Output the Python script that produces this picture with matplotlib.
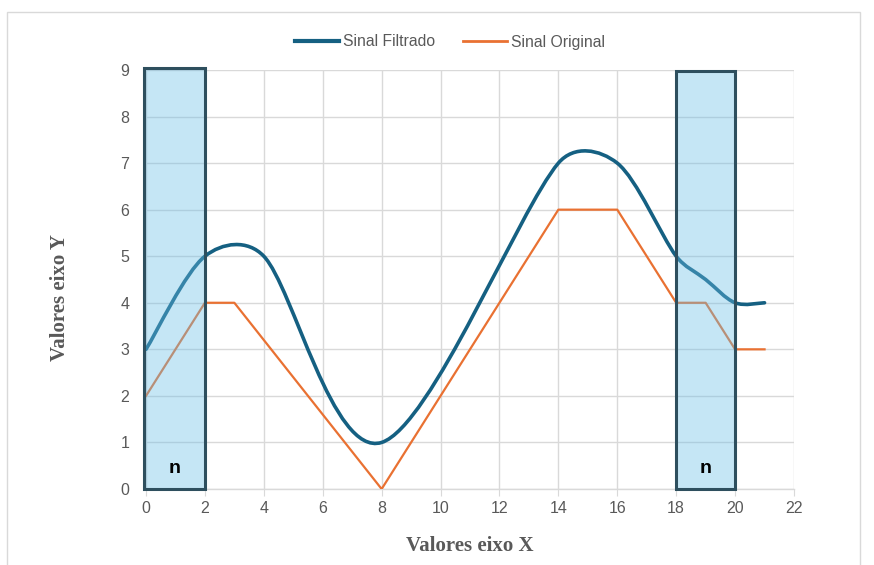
import numpy as np
import matplotlib
matplotlib.use("Agg")
from matplotlib import pyplot as plt
from matplotlib.path import Path
from matplotlib.patches import PathPatch, Rectangle
from matplotlib.lines import Line2D

# data
x_original = [0, 2, 3, 8, 14, 16, 18, 19, 20, 21]
y_original = [2, 4, 4, 0, 6, 6, 4, 4, 3, 3]
x_filtrado = [0, 2, 4, 8, 14, 16, 18, 19, 20, 21]
y_filtrado = [3, 5, 5, 1, 7, 7, 5, 4.5, 4, 4]
janelas = [(-0.06, 2, 9.05), (18, 20, 8.97)]
x_ticks = list(range(0, 23, 2))
y_ticks = list(range(0, 10))

BLUE = "#156082"
ORANGE = "#E97132"
GRAY = "#595959"
GRID = "#d9d9d9"


def smooth_path(xs, ys):
    """Bezier path like Excel's smoothed line"""
    p = np.column_stack([xs, ys]).astype(float)
    n = len(p)
    verts = [p[0]]
    codes = [Path.MOVETO]
    for i in range(n - 1):
        a, b = p[i], p[i + 1]
        seg = np.hypot(*(b - a))
        prev = p[i - 1] if i > 0 else a
        nxt = p[i + 2] if i + 2 < n else b
        t1 = (b - prev) / 6
        t2 = (nxt - a) / 6
        # keep the handles shorter than a third of the segment
        l1, l2 = np.hypot(*t1), np.hypot(*t2)
        if l1 > seg / 3:
            t1 = t1 * seg / 3 / l1
        if l2 > seg / 3:
            t2 = t2 * seg / 3 / l2
        verts += [a + t1, b - t2, b]
        codes += [Path.CURVE4] * 3
    return Path(verts, codes)


fig = plt.figure(figsize=(8.74, 5.65), dpi=100)
ax = fig.add_axes([146 / 874, 1 - 489 / 565, (794 - 146) / 874, (489 - 70) / 565])

ax.add_patch(PathPatch(smooth_path(x_filtrado, y_filtrado), facecolor="none",
                       edgecolor=BLUE, lw=2.6, capstyle="round", zorder=3))
ax.plot(x_original, y_original, color=ORANGE, lw=1.6, zorder=3)

for x0, x1, top in janelas:
    ax.add_patch(Rectangle((x0, 0), x1 - x0, top, facecolor="#6BBFE6", alpha=0.39,
                           edgecolor="none", zorder=4, clip_on=False))
    ax.add_patch(Rectangle((x0, 0), x1 - x0, top, facecolor="none",
                           edgecolor="#2e4f5e", lw=2.2, zorder=5, clip_on=False))
    ax.text((x0 + x1) / 2, 0.45, "n", ha="center", va="center", fontsize=14,
            fontweight="bold", family="Liberation Sans", zorder=6)

ax.set_xlim(0, 22)
ax.set_ylim(0, 9)
ax.set_xticks(x_ticks)
ax.set_yticks(y_ticks)
ax.grid(True, color=GRID, lw=1, zorder=0)
ax.set_axisbelow(True)
for s in ["top", "right", "left"]:
    ax.spines[s].set_visible(False)
ax.spines["bottom"].set_color(GRID)
ax.spines["bottom"].set_linewidth(1)
ax.tick_params(axis="x", colors=GRID, length=5, labelcolor=GRAY, labelsize=11.5)
ax.tick_params(axis="y", length=0, labelcolor=GRAY, labelsize=11.5, pad=12)
for lab in ax.get_xticklabels() + ax.get_yticklabels():
    lab.set_family("Liberation Sans")

fig.text(470 / 874, 1 - 546 / 565, "Valores eixo X", ha="center", va="center",
         fontsize=15, fontweight="bold", color=GRAY, family="Liberation Serif")
fig.text(60 / 874, 1 - 298 / 565, "Valores eixo Y", ha="center", va="center",
         rotation=90, fontsize=15, fontweight="bold", color=GRAY, family="Liberation Serif")

handles = [Line2D([], [], color=BLUE, lw=3), Line2D([], [], color=ORANGE, lw=2)]
fig.legend(handles, ["Sinal Filtrado", "Sinal Original"], loc="center",
           bbox_to_anchor=(450 / 874, 1 - 42 / 565), ncol=2, frameon=False,
           prop={"family": "Liberation Sans", "size": 11.3}, labelcolor=GRAY,
           handlelength=2.8, handletextpad=0.25, columnspacing=1.8)

fig.add_artist(Rectangle((7 / 874, -0.05), (860 - 7) / 874, 1.05 - 12 / 565,
                         transform=fig.transFigure, facecolor="none",
                         edgecolor=GRID, lw=1))

fig.savefig("out.png", dpi=100)
